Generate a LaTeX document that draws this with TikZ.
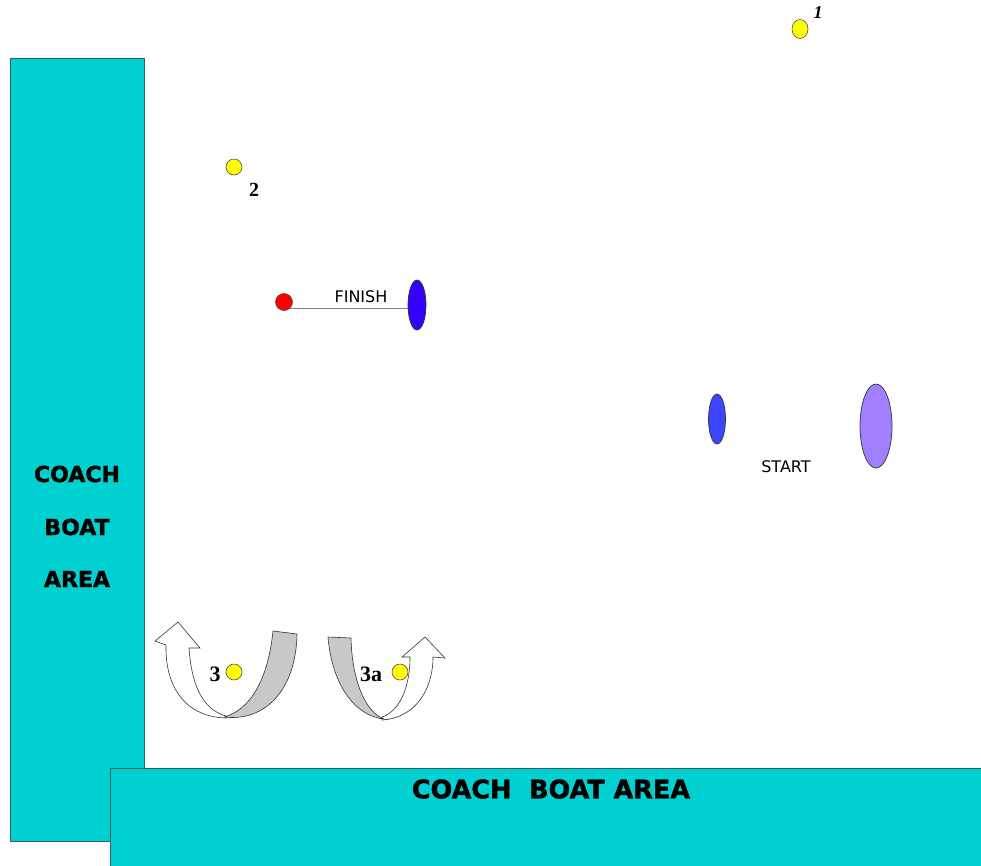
\documentclass[tikz,border=0pt]{standalone}
\usepackage{fontspec}
\setmainfont{Liberation Serif}
\newfontfamily\signfont{DejaVu Sans}
\newfontfamily\heavyfont{DejaVu Sans Bold}[FakeBold=1.5]
\usetikzlibrary{shapes.geometric}
\definecolor{coachteal}{RGB}{0,208,208}
\definecolor{tealedge}{RGB}{50,95,95}
\definecolor{markyellow}{RGB}{255,255,0}
\definecolor{finblue}{RGB}{51,0,255}
\definecolor{startblue}{RGB}{60,70,255}
\definecolor{startviolet}{RGB}{160,128,255}
\definecolor{bandgray}{RGB}{200,200,200}

\begin{document}
\begin{tikzpicture}[x=1pt,y=-1pt,
  area/.style={fill=coachteal,draw=tealedge,line width=0.9pt},
  areatext/.style={font=\heavyfont\fontsize{22}{26}\selectfont},
  buoy/.style={circle,fill=markyellow,draw=black!70,line width=0.6pt,minimum size=16pt,inner sep=0},
  buoynum/.style={font=\bfseries\fontsize{22}{24}\selectfont},
  boat/.style={ellipse,draw=black!80,line width=0.7pt,inner sep=0},
  linetext/.style={font=\signfont\fontsize{16}{18}\selectfont},
  turnarrow/.style={fill=white,draw=black!80,line width=0.6pt},
  turnband/.style={fill=bandgray,draw=black!80,line width=0.6pt}]

\useasboundingbox (0,0) rectangle (981,865);

% coach boat areas
\draw[area] (10,58) rectangle (144,841);
\draw[area] (110,768) rectangle (995,880);
\node[areatext] (coach) at (77,474) {COACH};
\node[areatext] (boat) at (77,527) {BOAT};
\node[areatext] (area) at (77,579) {AREA};
\node[areatext,font=\heavyfont\fontsize{25.5}{28}\selectfont] (coachbottom) at (551,789) {COACH~~BOAT AREA};

% marks
\node[buoy,ellipse,minimum width=16pt,minimum height=19pt] (m1) at (800,29) {};
\node[buoynum,font=\bfseries\itshape\fontsize{18}{20}\selectfont] (n1) at (818,13) {1};
\node[buoy] (m2) at (234,167) {};
\node[buoynum,font=\bfseries\fontsize{20}{22}\selectfont] (n2) at (254,190) {2};
\node[buoy] (m3) at (234,672) {};
\node[buoynum] (n3) at (215,674) {3};
\node[buoy] (m3a) at (400,672) {};
\node[buoynum] (n3a) at (371,674) {3a};

% finish line
\node[circle,fill=red,draw=black!70,line width=0.6pt,minimum size=17pt,inner sep=0] (pin) at (284,302) {};
\node[boat,fill=finblue,minimum width=18pt,minimum height=50pt] (finboat) at (417,305) {};
\draw[gray,line width=0.8pt] (pin.-45) -- (pin.-45 -| finboat.west);
\node[linetext] (finish) at (361,297) {FINISH};

% start line
\node[boat,fill=startblue,minimum width=17pt,minimum height=50pt] (startpin) at (717,419) {};
\node[boat,fill=startviolet,minimum width=32pt,minimum height=84pt] (startboat) at (876,426) {};
\node[linetext] (start) at (786,467) {START};

% rounding arrows at 3
\draw[turnarrow] (226,718) .. controls (188,717) and (165,690) .. (166,645)
  -- (155,641) -- (178,622) -- (200,648) -- (189,648)
  .. controls (192,690) and (205,710) .. (226,716) -- cycle;
\draw[turnband] (273,631) .. controls (268,680) and (250,710) .. (224,717)
  .. controls (265,722) and (296,690) .. (297,634) -- cycle;

% rounding arrows at 3a
\draw[turnarrow] (382,720) .. controls (415,718) and (433,690) .. (433,657)
  -- (445,658) -- (425,637) -- (402,657) -- (410,657)
  .. controls (410,690) and (398,712) .. (382,717) -- cycle;
\draw[turnband] (328,637) .. controls (332,685) and (355,716) .. (384,719)
  .. controls (365,712) and (352,680) .. (351,638) -- cycle;

\end{tikzpicture}
\end{document}
